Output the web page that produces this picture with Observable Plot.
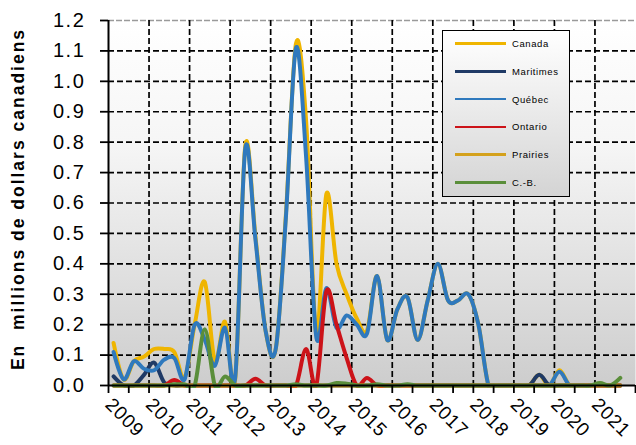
<!DOCTYPE html>
<html><head><meta charset="utf-8">
<script src="https://cdn.jsdelivr.net/npm/d3@7"></script>
<script src="https://cdn.jsdelivr.net/npm/@observablehq/plot@0.6"></script>
<style>
body{margin:0;background:#fff;font-family:"Liberation Sans",Arial,sans-serif;}
#wrap{position:relative;width:636px;height:445px;overflow:hidden;}
#legend{position:absolute;left:442px;top:30px;width:126px;height:165px;border:1.5px solid #000;background:linear-gradient(#ffffff,#d4d4d4);}
.item{position:absolute;left:12px;height:10px;display:flex;align-items:center;font-size:9.5px;letter-spacing:0.6px;color:#000;white-space:nowrap;}
.item .sw{display:inline-block;width:51px;height:2.5px;margin-right:6px;}
</style></head><body><div id="wrap"></div>
<script>
// Quarterly periods, 2009 T1 .. 2021 T3 (categories)
const periods = [];
for (let y = 2009; y <= 2021; y++) for (let q = 1; q <= 4; q++) if (!(y === 2021 && q === 4)) periods.push(y + "-T" + q);

const yearLabels = ["2009","2010","2011","2012","2013","2014","2015","2016","2017","2018","2019","2020","2021"];
const yTicks = [0,0.1,0.2,0.3,0.4,0.5,0.6,0.7,0.8,0.9,1.0,1.1,1.2];

const canada = [0.14,0.02,0.08,0.095, 0.12,0.12,0.11,0.025, 0.2,0.34,0.08,0.21, 0.02,0.79,0.49,0.18, 0.12,0.56,1.125,0.87, 0.17,0.63,0.40,0.30, 0.22,0.18,0.36,0.15, 0.25,0.29,0.15,0.28, 0.40,0.28,0.28,0.30, 0.20,0,0,0, 0,0,0.035,0, 0.05,0,0,0, 0,0,0];
const maritimes = [0.03,0,0,0.035, 0.075,0.01,0,0, 0,0,0,0, 0,0,0,0, 0,0,0,0, 0,0,0,0, 0,0,0,0, 0,0,0,0, 0,0,0,0, 0,0,0,0, 0,0,0.035,0, 0,0,0,0, 0,0,0];
const quebec = [0.11,0.02,0.08,0.055, 0.05,0.085,0.09,0.02, 0.2,0.15,0.065,0.19, 0.025,0.78,0.48,0.18, 0.12,0.55,1.11,0.75, 0.16,0.32,0.19,0.23, 0.20,0.17,0.36,0.15, 0.25,0.29,0.15,0.28, 0.40,0.28,0.28,0.30, 0.20,0,0,0, 0,0,0,0, 0.045,0,0,0, 0,0,0];
const ontario = [0,0,0,0, 0,0,0.018,0, 0,0,0,0, 0,0,0.022,0, 0,0,0,0.12, 0,0.31,0.2,0.09, 0,0.025,0,0, 0,0,0,0, 0,0,0,0, 0,0,0,0, 0,0,0,0, 0,0,0,0, 0,0,0];
const prairies = [0,0,0,0, 0,0,0,0, 0,0,0,0, 0,0,0,0, 0,0,0,0, 0,0,0,0, 0,0,0,0, 0,0,0,0, 0,0,0,0, 0,0,0,0, 0,0,0,0, 0,0,0,0, 0,0,0];
const cb = [0,0,0,0, 0,0,0.004,0.004, 0,0.185,0,0.03, 0,0,0,0, 0,0,0.004,0, 0,0,0.008,0.006, 0,0,0.004,0, 0,0.004,0,0, 0,0,0,0, 0,0,0,0, 0,0,0,0, 0,0,0,0, 0.008,0,0.025];

const seriesNames = ["Canada","Maritimes","Québec","Ontario","Prairies","C.-B."];
const seriesValues = [canada, maritimes, quebec, ontario, prairies, cb];
const seriesColors = ["#efb500","#1f3a66","#2f79bd","#cc1319","#d4a11c","#5a8e3a"];

// position of each quarter in fractional years (centre of the quarter)
const pos = p => { const [y, q] = p.split("-T"); return +y + (+q - 0.5) / 4; };

const rows = [];
seriesNames.forEach((name, s) => seriesValues[s].forEach((v, i) => rows.push({name, t: pos(periods[i]), v})));

const years = yearLabels.map(Number);
const halfYears = [];
years.forEach(y => { halfYears.push(y, y + 0.5); });
halfYears.push(2022);

const dash = {stroke: "#000", strokeOpacity: 1, strokeWidth: 1.7, strokeDasharray: "6,3"};

const plot = Plot.plot({
  width: 636, height: 445,
  marginLeft: 108, marginRight: 1, marginTop: 20, marginBottom: 60,
  style: {fontFamily: "'Liberation Sans', Arial, sans-serif", background: "transparent", overflow: "visible"},
  x: {domain: [2009, 2022]},
  y: {domain: [0, 1.2]},
  marks: [
    Plot.frame({fill: "url(#bgGrad)", stroke: "none"}),
    Plot.gridY(yTicks.filter(d => d > 0 && d < 1.2), dash),
    Plot.ruleY([1.2], {stroke: "#9a9a9a", strokeWidth: 1.6, strokeDasharray: "6,2"}),
    Plot.gridX(years.filter(d => d > 2009), dash),
    ...seriesNames.map((name, s) => Plot.line(rows.filter(r => r.name === name), {
      x: "t", y: "v", stroke: seriesColors[s], strokeWidth: 4, curve: "cardinal"
    })),
    Plot.ruleY([0], {stroke: "#000", strokeWidth: 1.8}),
    Plot.ruleX([2009], {stroke: "#000", strokeWidth: 2}),
    Plot.axisY({ticks: yTicks, tickFormat: d3.format(".1f"), tickSize: 8, tickPadding: 15, fontSize: 20, label: null, stroke: "#000", strokeWidth: 1.8}),
    Plot.axisX({ticks: halfYears, tickFormat: d => (Number.isInteger(d) && d < 2022) ? String(d) : "", tickRotate: 45, tickSize: 8, tickPadding: 8, fontSize: 19, label: null, stroke: "#000", strokeWidth: 1.8}),
    Plot.text(["En  millions de dollars canadiens"], {frameAnchor: "left", textAnchor: "middle", rotate: -90, dx: -90, dy: -4, fontSize: 17.5, fontWeight: "bold", fill: "#000"})
  ]
});

// background gradient + clip region for the lines
const svg = d3.select(plot);
const xs = plot.scale("x"), ys = plot.scale("y");
const defs = svg.insert("defs", ":first-child");
const g = defs.append("linearGradient").attr("id", "bgGrad").attr("x1", 0).attr("y1", 0).attr("x2", 0).attr("y2", 1);
g.append("stop").attr("offset", "0%").attr("stop-color", "#ffffff");
g.append("stop").attr("offset", "35%").attr("stop-color", "#f5f5f5");
g.append("stop").attr("offset", "100%").attr("stop-color", "#cdcdcd");
const xa = xs.apply(2009), xb = xs.apply(2022), ya = ys.apply(1.2), yb = ys.apply(0);
defs.append("clipPath").attr("id", "lineClip").append("rect")
  .attr("x", xa).attr("y", ya - 6).attr("width", xb - xa).attr("height", yb - ya + 8.5);
svg.selectAll('g[aria-label="line"]').attr("clip-path", "url(#lineClip)");
svg.selectAll('g[aria-label="y-axis tick label"] text').style("letter-spacing", "1.6px");
svg.selectAll('g[aria-label="x-axis tick label"] text').style("letter-spacing", "0.8px");
svg.selectAll('g[aria-label="text"] text').style("letter-spacing", "2px");

const wrap = document.getElementById("wrap");
wrap.appendChild(plot);

// legend
const legend = document.createElement("div");
legend.id = "legend";
seriesNames.forEach((name, s) => {
  const it = document.createElement("div");
  it.className = "item";
  it.style.top = (7.5 + s * 27.8) + "px";
  it.innerHTML = `<span class="sw" style="background:${seriesColors[s]}"></span><span>${name}</span>`;
  legend.appendChild(it);
});
wrap.appendChild(legend);
</script>
</body></html>
